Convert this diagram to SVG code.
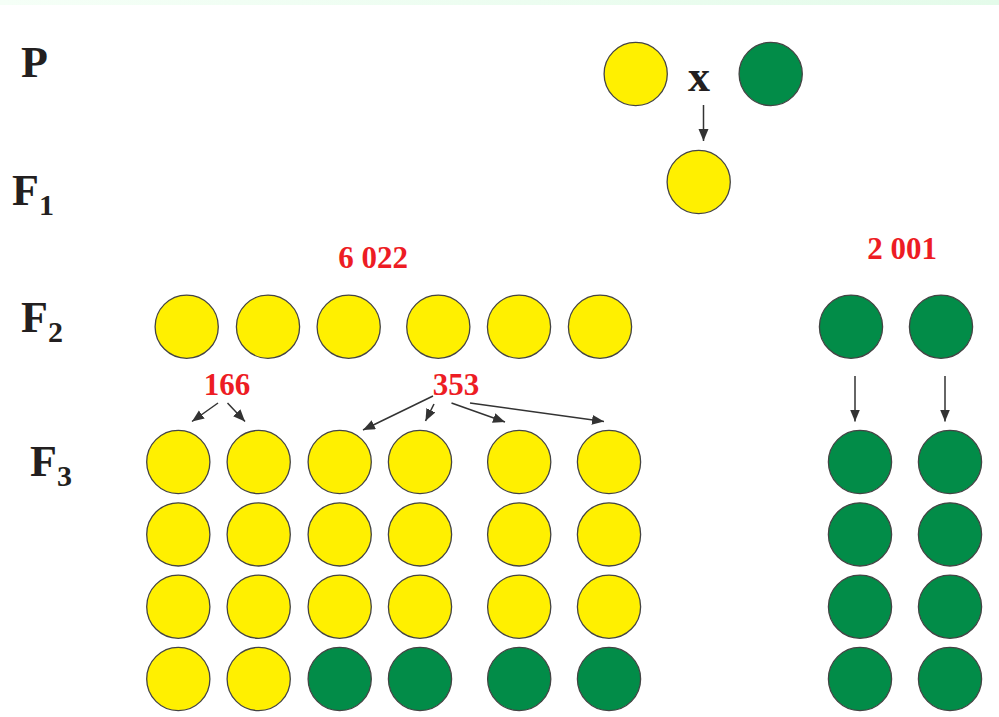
<svg xmlns="http://www.w3.org/2000/svg" width="999" height="717" viewBox="0 0 999 717">
<defs>
<linearGradient id="band" x1="0" y1="0" x2="1" y2="0">
<stop offset="0" stop-color="#f5fff7"/>
<stop offset="1" stop-color="#e4fbea"/>
</linearGradient>
<marker id="ah" markerUnits="userSpaceOnUse" markerWidth="14" markerHeight="12" refX="12" refY="5" orient="auto">
<path d="M0,0 L12,5 L0,10 Z" fill="#333"/>
</marker>
</defs>
<style>
.y{fill:#fff000;stroke:#444;stroke-width:1.3}
.g{fill:#028c48;stroke:#444;stroke-width:1.3}
.lbl{font-family:"Liberation Serif","Times New Roman",serif;font-weight:bold;fill:#231f20}
.num{font-family:"Liberation Serif","Times New Roman",serif;font-weight:bold;fill:#ed1c24;font-size:31px;text-anchor:middle}
.c{stroke:#333;stroke-width:1.5;fill:none;marker-end:url(#ah)}
</style>
<rect x="0" y="0" width="999" height="5" fill="url(#band)"/>
<rect x="0" y="5" width="999" height="712" fill="#fff"/>

<g id="labels">
<text class="lbl" x="21" y="77" font-size="44">P</text>
<text class="lbl" x="12" y="205" font-size="44">F<tspan font-size="30" dy="10">1</tspan></text>
<text class="lbl" x="21" y="332" font-size="44">F<tspan font-size="30" dy="10">2</tspan></text>
<text class="lbl" x="30" y="476" font-size="44">F<tspan font-size="30" dy="10">3</tspan></text>
<text class="lbl" x="699" y="91" font-size="44" text-anchor="middle">x</text>
<text class="num" x="373" y="268">6 022</text>
<text class="num" x="902" y="259">2 001</text>
<text class="num" x="227" y="395">166</text>
<text class="num" x="456" y="395">353</text>
</g>

<g id="connectors">
<line class="c" x1="703.5" y1="105" x2="703.5" y2="141"/>
<line class="c" x1="218" y1="403" x2="192" y2="421.5"/>
<line class="c" x1="227.5" y1="403" x2="245" y2="421.5"/>
<line class="c" x1="433" y1="396" x2="363" y2="430"/>
<line class="c" x1="434" y1="404" x2="425.5" y2="421"/>
<line class="c" x1="451.5" y1="403" x2="505" y2="422"/>
<line class="c" x1="470" y1="403" x2="604" y2="421.5"/>
<line class="c" x1="855" y1="376" x2="855" y2="421.5"/>
<line class="c" x1="945" y1="376" x2="945" y2="421.5"/>
</g>

<g id="P">
<circle class="y" cx="635.7" cy="74" r="31.6"/>
<circle class="g" cx="770.7" cy="74" r="31.6"/>
</g>
<g id="F1">
<circle class="y" cx="698.7" cy="182" r="31.6"/>
</g>
<g id="F2">
<circle class="y" cx="186.7" cy="326.7" r="31.6"/>
<circle class="y" cx="268" cy="326.7" r="31.6"/>
<circle class="y" cx="348.7" cy="326.7" r="31.6"/>
<circle class="y" cx="438.3" cy="326.7" r="31.6"/>
<circle class="y" cx="519" cy="326.7" r="31.6"/>
<circle class="y" cx="600" cy="326.7" r="31.6"/>
<circle class="g" cx="851" cy="326.7" r="31.6"/>
<circle class="g" cx="941" cy="326.7" r="31.6"/>
</g>
<g id="F3-row1">
<circle class="y" cx="178.3" cy="462" r="31.6"/>
<circle class="y" cx="258.7" cy="462" r="31.6"/>
<circle class="y" cx="339.7" cy="462" r="31.6"/>
<circle class="y" cx="420" cy="462" r="31.6"/>
<circle class="y" cx="519.2" cy="462" r="31.6"/>
<circle class="y" cx="609" cy="462" r="31.6"/>
<circle class="g" cx="860" cy="462" r="31.6"/>
<circle class="g" cx="950" cy="462" r="31.6"/>
</g>
<g id="F3-row2">
<circle class="y" cx="178.3" cy="534.4" r="31.6"/>
<circle class="y" cx="258.7" cy="534.4" r="31.6"/>
<circle class="y" cx="339.7" cy="534.4" r="31.6"/>
<circle class="y" cx="420" cy="534.4" r="31.6"/>
<circle class="y" cx="519.2" cy="534.4" r="31.6"/>
<circle class="y" cx="609" cy="534.4" r="31.6"/>
<circle class="g" cx="860" cy="534.4" r="31.6"/>
<circle class="g" cx="950" cy="534.4" r="31.6"/>
</g>
<g id="F3-row3">
<circle class="y" cx="178.3" cy="606.7" r="31.6"/>
<circle class="y" cx="258.7" cy="606.7" r="31.6"/>
<circle class="y" cx="339.7" cy="606.7" r="31.6"/>
<circle class="y" cx="420" cy="606.7" r="31.6"/>
<circle class="y" cx="519.2" cy="606.7" r="31.6"/>
<circle class="y" cx="609" cy="606.7" r="31.6"/>
<circle class="g" cx="860" cy="606.7" r="31.6"/>
<circle class="g" cx="950" cy="606.7" r="31.6"/>
</g>
<g id="F3-row4">
<circle class="y" cx="178.3" cy="679" r="31.6"/>
<circle class="y" cx="258.7" cy="679" r="31.6"/>
<circle class="g" cx="339.7" cy="679" r="31.6"/>
<circle class="g" cx="420" cy="679" r="31.6"/>
<circle class="g" cx="519.2" cy="679" r="31.6"/>
<circle class="g" cx="609" cy="679" r="31.6"/>
<circle class="g" cx="860" cy="679" r="31.6"/>
<circle class="g" cx="950" cy="679" r="31.6"/>
</g>
</svg>
